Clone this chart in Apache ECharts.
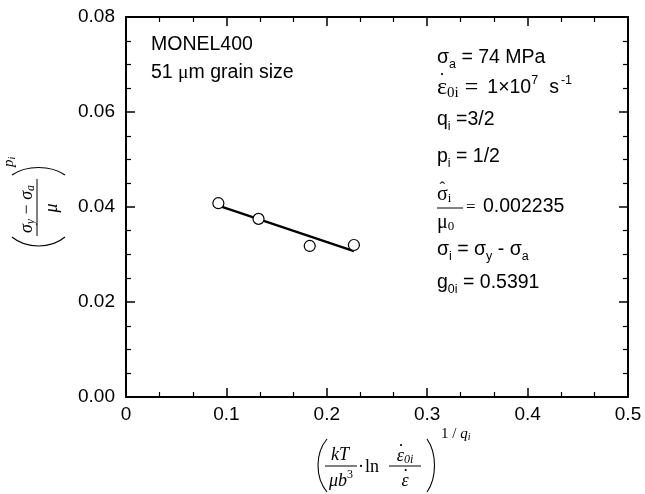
<!DOCTYPE html>
<html>
<head>
<meta charset="utf-8">
<script src="https://cdn.jsdelivr.net/npm/echarts@6/dist/echarts.min.js"></script>
<style>
  html, body { margin: 0; padding: 0; background: #fff; }
  #chart { width: 645px; height: 494px; }
</style>
</head>
<body>
<div id="chart"></div>
<script>
// MONEL400, 51 um grain size: normalised threshold stress vs. thermal term
const xValues = [0.092, 0.132, 0.183, 0.227];
const yValues = [0.0408, 0.0375, 0.0318, 0.0320];

// least-squares fit through the four points (end points)
const fitX = [0.092, 0.227];
const fitY = [0.0403, 0.0307];

// axis ticks and their labels
const xTicks = [0, 0.1, 0.2, 0.3, 0.4, 0.5];
const xTickLabels = ['0', '0.1', '0.2', '0.3', '0.4', '0.5'];
const yTicks = [0, 0.02, 0.04, 0.06, 0.08];
const yTickLabels = ['0.00', '0.02', '0.04', '0.06', '0.08'];

const SANS = "'Liberation Sans', Arial, Helvetica, sans-serif";
const SERIF = "'Liberation Serif', 'Times New Roman', Times, serif";
const FS = 19.5;   // body text size
const SUB = 12.5;  // sub/superscript size

const meas = document.createElement('canvas').getContext('2d');
function fontOf(p) {
  return (p.it ? 'italic ' : '') + p.size + 'px ' + (p.serif ? SERIF : SANS);
}
function textEl(x, y, t, p, align) {
  return {
    type: 'text', x: x, y: y, silent: true,
    style: {
      text: t, fill: '#000',
      fontSize: p.size, fontFamily: p.serif ? SERIF : SANS,
      fontStyle: p.it ? 'italic' : 'normal',
      align: align || 'left', verticalAlign: 'middle',
      textAlign: align || 'left', textVerticalAlign: 'middle'
    }
  };
}
function widthOf(pieces) {
  let w = 0;
  for (const p of pieces) { meas.font = fontOf(p); w += (p.pre || 0) + meas.measureText(p.t).width; }
  return w;
}
// lay out a run of text pieces left to right, each with its own vertical shift
function row(x, y, pieces, out) {
  let cx = x;
  const pos = [];
  for (const p of pieces) {
    cx += p.pre || 0;
    out.push(textEl(cx, y + (p.dy || 0), p.t, p));
    meas.font = fontOf(p);
    const w = meas.measureText(p.t).width;
    pos.push({ x: cx, w: w });
    cx += w;
  }
  return pos;
}
function rowCentered(cx, y, pieces, out) {
  return row(cx - widthOf(pieces) / 2, y, pieces, out);
}
function hline(x1, x2, y, out, lw) {
  out.push({ type: 'line', silent: true, shape: { x1: x1, y1: y, x2: x2, y2: y },
    style: { stroke: '#000', lineWidth: lw || 1 } });
}
function dot(x, y, out) {
  out.push({ type: 'circle', silent: true, shape: { cx: x, cy: y, r: 1.1 }, style: { fill: '#000' } });
}
// tall round bracket as a cubic curve; negative bulge gives "(", positive gives ")"
function paren(x, y1, y2, bulge, out) {
  const h = y2 - y1;
  out.push({ type: 'bezierCurve', silent: true,
    shape: { x1: x, y1: y1, x2: x, y2: y2,
      cpx1: x + bulge, cpy1: y1 + h * 0.27, cpx2: x + bulge, cpy2: y2 - h * 0.27 },
    style: { stroke: '#000', lineWidth: 1.1, fill: null } });
}

const graphics = [];

// ---- sample description (upper left)
graphics.push(textEl(151, 45, 'MONEL400', { size: FS }));
row(151, 73, [{ t: '51 ', size: FS }, { t: 'μ', size: FS, serif: true }, { t: 'm grain size', size: FS }], graphics);

// ---- model parameters (right column)
const X0 = 437;
row(X0, 58, [
  { t: 'σ', size: FS }, { t: 'a', size: SUB, dy: 7 }, { t: ' = 74 MPa', size: FS }
], graphics);

const l2 = row(X0, 88, [
  { t: 'ε', size: 24, serif: true }, { t: '0i', size: 15, serif: true, dy: 5 },
  { t: '=', size: 24, serif: true, pre: 6 }, { t: '1×10', size: FS, pre: 9 },
  { t: '7', size: SUB, dy: -7 }, { t: 's', size: FS, pre: 11 }, { t: '-1', size: SUB, dy: -7, pre: 2 }
], graphics);
dot(l2[0].x + l2[0].w * 0.5, 74, graphics);

row(X0, 120, [
  { t: 'q', size: FS }, { t: 'i', size: SUB, dy: 7 }, { t: ' =3/2', size: FS }
], graphics);
row(X0, 157, [
  { t: 'p', size: FS }, { t: 'i', size: SUB, dy: 7 }, { t: ' = 1/2', size: FS }
], graphics);

const f1 = row(X0, 195, [
  { t: 'σ', size: 20, serif: true }, { t: 'i', size: 13, serif: true, dy: 4 }
], graphics);
graphics.push(textEl(f1[0].x + f1[0].w / 2, 189, 'ˆ', { size: 17, serif: true }, 'center'));
hline(X0, 463, 208, graphics);
row(X0, 223, [
  { t: 'μ', size: 20, serif: true }, { t: '0', size: 13, serif: true, dy: 4 }
], graphics);
graphics.push(textEl(466, 208, '=', { size: 17, serif: true }));
graphics.push(textEl(483, 207, '0.002235', { size: FS }));

row(X0, 250, [
  { t: 'σ', size: FS }, { t: 'i', size: SUB, dy: 7 }, { t: ' = ', size: FS },
  { t: 'σ', size: FS }, { t: 'y', size: SUB, dy: 7 }, { t: ' - ', size: FS },
  { t: 'σ', size: FS }, { t: 'a', size: SUB, dy: 7 }
], graphics);
row(X0, 283, [
  { t: 'g', size: FS }, { t: '0i', size: SUB, dy: 7 }, { t: ' = 0.5391', size: FS }
], graphics);

// ---- x-axis title: (kT/(mu b^3) * ln(eps0i/eps))^(1/qi)
paren(327, 439, 492, -12, graphics);
rowCentered(340, 455, [{ t: 'kT', size: 18, serif: true, it: true }], graphics);
hline(325, 357, 466, graphics);
rowCentered(341, 481, [
  { t: 'μb', size: 18, serif: true, it: true }, { t: '3', size: 12, serif: true, dy: -6 }
], graphics);
row(358, 467, [{ t: '·', size: 18, serif: true }, { t: 'ln', size: 18, serif: true, pre: 1 }], graphics);
const nx = rowCentered(405, 456, [
  { t: 'ε', size: 18, serif: true, it: true }, { t: '0i', size: 12, serif: true, it: true, dy: 4 }
], graphics);
dot(nx[0].x + nx[0].w * 0.6, 445, graphics);
hline(389, 421, 466, graphics);
const dx = rowCentered(405, 481, [{ t: 'ε', size: 18, serif: true, it: true }], graphics);
dot(dx[0].x + dx[0].w * 0.6, 470, graphics);
paren(427, 439, 492, 10, graphics);
row(441, 434, [
  { t: '1 / ', size: 15, serif: true }, { t: 'q', size: 15, serif: true, it: true },
  { t: 'i', size: 10, serif: true, it: true, dy: 3 }
], graphics);

// ---- y-axis title ((sigma_y - sigma_a)/mu)^(p_i), written along the axis
const yt = [];
paren(-29, -28, 25, -12, yt);
rowCentered(-1, -13, [
  { t: 'σ', size: 18, serif: true, it: true }, { t: 'y', size: 12, serif: true, it: true, dy: 4 },
  { t: ' − ', size: 18, serif: true },
  { t: 'σ', size: 18, serif: true, it: true }, { t: 'a', size: 12, serif: true, it: true, dy: 4 }
], yt);
hline(-28, 29, -3, yt);
rowCentered(0, 12, [{ t: 'μ', size: 18, serif: true, it: true }], yt);
paren(33, -28, 25, 10, yt);
row(41, -31, [
  { t: 'p', size: 15, serif: true, it: true }, { t: 'i', size: 10, serif: true, it: true, dy: 3 }
], yt);
graphics.push({ type: 'group', x: 40, y: 208, rotation: Math.PI / 2, children: yt });

function tickLabel(ticks, labels) {
  return function (v) {
    const i = ticks.findIndex(function (t) { return Math.abs(t - v) < 1e-9; });
    return i >= 0 ? labels[i] : '';
  };
}

const axisLine = { show: true, onZero: false, lineStyle: { color: '#000', width: 2 } };
const axisTick = { show: true, inside: true, length: 9, lineStyle: { color: '#000', width: 1.5 } };
const minorTickX = { show: true, splitNumber: 3, length: 5, lineStyle: { color: '#000', width: 1.2 } };
const minorTickY = { show: true, splitNumber: 4, length: 5, lineStyle: { color: '#000', width: 1.2 } };

const xBase = { type: 'value', min: 0, max: 0.5, interval: 0.1, splitLine: { show: false },
  axisLine: axisLine, axisTick: axisTick, minorTick: minorTickX };
const yBase = { type: 'value', min: 0, max: 0.08, interval: 0.02, splitLine: { show: false },
  axisLine: axisLine, axisTick: axisTick, minorTick: minorTickY };

const chart = echarts.init(document.getElementById('chart'), null, { renderer: 'canvas' });
chart.setOption({
  backgroundColor: '#fff',
  animation: false,
  grid: { left: 126, right: 17, top: 17, bottom: 97, containLabel: false, outerBoundsMode: 'none' },
  xAxis: [
    Object.assign({}, xBase, { position: 'bottom',
      axisLabel: { color: '#000', fontSize: 19, fontFamily: SANS, margin: 8,
        formatter: tickLabel(xTicks, xTickLabels) } }),
    Object.assign({}, xBase, { position: 'top', axisLabel: { show: false } })
  ],
  yAxis: [
    Object.assign({}, yBase, { position: 'left',
      axisLabel: { color: '#000', fontSize: 19, fontFamily: SANS, margin: 11,
        formatter: tickLabel(yTicks, yTickLabels) } }),
    Object.assign({}, yBase, { position: 'right', axisLabel: { show: false } })
  ],
  series: [
    {
      type: 'line', xAxisIndex: 0, yAxisIndex: 0, z: 2,
      data: fitX.map(function (x, i) { return [x, fitY[i]]; }),
      showSymbol: false, symbol: 'none',
      lineStyle: { color: '#000', width: 2.3 }
    },
    {
      type: 'scatter', xAxisIndex: 0, yAxisIndex: 0, z: 3,
      data: xValues.map(function (x, i) { return [x, yValues[i]]; }),
      symbol: 'circle', symbolSize: 11,
      itemStyle: { color: '#fff', borderColor: '#000', borderWidth: 1.2, opacity: 1 }
    }
  ],
  graphic: graphics
});
</script>
</body>
</html>
